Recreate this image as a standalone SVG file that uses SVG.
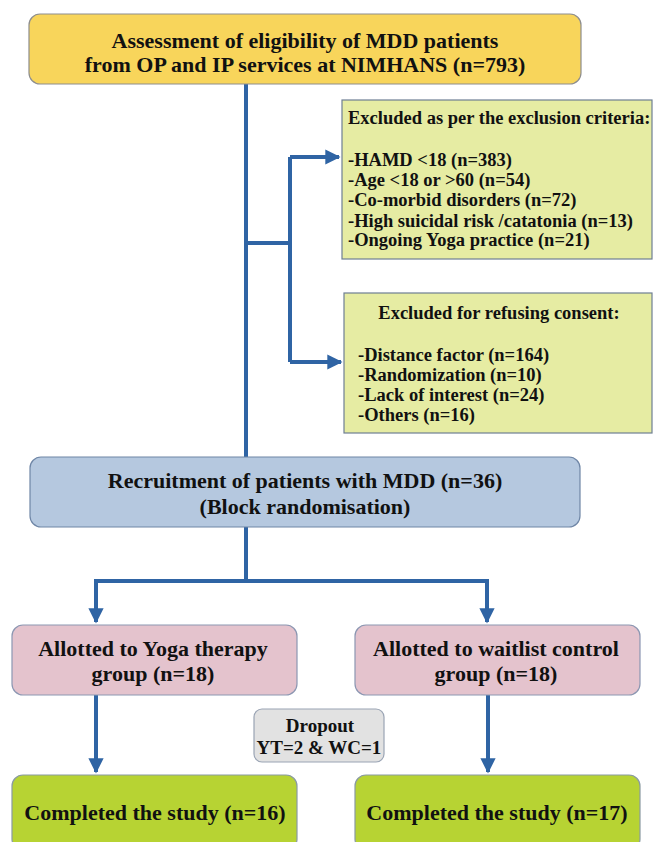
<svg xmlns="http://www.w3.org/2000/svg" width="653" height="842" viewBox="0 0 653 842">
<defs>
<style>
text{font-family:"Liberation Serif","Times New Roman",serif;font-weight:bold;fill:#111;}
.c{text-anchor:middle;}
.big{font-size:22px;}
.mid{font-size:18.5px;}
.sm{font-size:19px;}
.line{stroke:#2F64A4;stroke-width:4;fill:none;}
.n{stroke-width:1.2;}
</style>
<marker id="ah" viewBox="0 0 10 10" refX="9" refY="5" markerWidth="4" markerHeight="3.8" orient="auto" markerUnits="strokeWidth">
<path d="M0,0 L10,5 L0,10 Z" fill="#2F64A4"/>
</marker>
</defs>
<rect width="653" height="842" fill="#fff"/>
<g id="connectors">
<path class="line" d="M246,84 V457"/>
<path class="line" d="M246,243 H290"/>
<path class="line" d="M290,157 V362"/>
<path class="line" d="M290,157 H339" marker-end="url(#ah)"/>
<path class="line" d="M290,362 H341" marker-end="url(#ah)"/>
<path class="line" d="M246,527 V581"/>
<path class="line" d="M96,581 H487"/>
<path class="line" d="M96,579 V622" marker-end="url(#ah)"/>
<path class="line" d="M487,579 V622" marker-end="url(#ah)"/>
<path class="line" d="M96,695 V772" marker-end="url(#ah)"/>
<path class="line" d="M488,695 V772" marker-end="url(#ah)"/>
</g>
<g id="assessment">
<rect class="n" x="29" y="14" width="552" height="70" rx="11" fill="#F8D55B" stroke="#8E8E8E"/>
<text class="c big" x="305" y="48">Assessment of eligibility of MDD patients</text>
<text class="c big" x="305" y="72">from OP and IP services at NIMHANS (n=793)</text>
</g>
<g id="excl-criteria">
<rect class="n" x="342" y="100" width="310" height="159" fill="#E6ECA3" stroke="#6E7F93"/>
<text class="mid" x="348" y="124">Excluded as per the exclusion criteria:</text>
<text class="mid" x="348" y="166">-HAMD &lt;18 (n=383)</text>
<text class="mid" x="348" y="186">-Age &lt;18 or &gt;60 (n=54)</text>
<text class="mid" x="348" y="206">-Co-morbid disorders (n=72)</text>
<text class="mid" x="348" y="227">-High suicidal risk /catatonia (n=13)</text>
<text class="mid" x="348" y="246">-Ongoing Yoga practice (n=21)</text>
</g>
<g id="excl-consent">
<rect class="n" x="344" y="293" width="308" height="140" fill="#E6ECA3" stroke="#6E7F93"/>
<text class="c mid" x="499" y="319">Excluded for refusing consent:</text>
<text class="mid" x="358" y="361">-Distance factor (n=164)</text>
<text class="mid" x="358" y="381">-Randomization (n=10)</text>
<text class="mid" x="358" y="401">-Lack of interest (n=24)</text>
<text class="mid" x="358" y="421">-Others (n=16)</text>
</g>
<g id="recruitment">
<rect class="n" x="30" y="457" width="550" height="70" rx="11" fill="#B5C8DF" stroke="#6F86A6"/>
<text class="c big" x="305" y="488">Recruitment of patients with MDD (n=36)</text>
<text class="c big" x="305" y="514">(Block randomisation)</text>
</g>
<g id="yoga">
<rect class="n" x="12" y="625" width="285" height="70" rx="11" fill="#E4C3CD" stroke="#8C97B2"/>
<text class="c big" x="153" y="656">Allotted to Yoga therapy</text>
<text class="c big" x="153" y="681">group (n=18)</text>
</g>
<g id="waitlist">
<rect class="n" x="355" y="625" width="285" height="70" rx="11" fill="#E4C3CD" stroke="#8C97B2"/>
<text class="c big" x="496" y="656">Allotted to waitlist control</text>
<text class="c big" x="496" y="681">group (n=18)</text>
</g>
<g id="dropout">
<rect class="n" x="254" y="709" width="130" height="53" rx="8" fill="#E2E2E2" stroke="#9AA4B4"/>
<text class="c sm" x="320" y="732">Dropout</text>
<text class="c sm" x="319" y="754">YT=2 &amp; WC=1</text>
</g>
<g id="completed-yt">
<rect class="n" x="12" y="775" width="285" height="75" rx="11" fill="#B7D333" stroke="#8A9AA2"/>
<text class="c big" x="155" y="820">Completed the study (n=16)</text>
</g>
<g id="completed-wc">
<rect class="n" x="355" y="775" width="285" height="75" rx="11" fill="#B7D333" stroke="#8A9AA2"/>
<text class="c big" x="497" y="820">Completed the study (n=17)</text>
</g>
</svg>
